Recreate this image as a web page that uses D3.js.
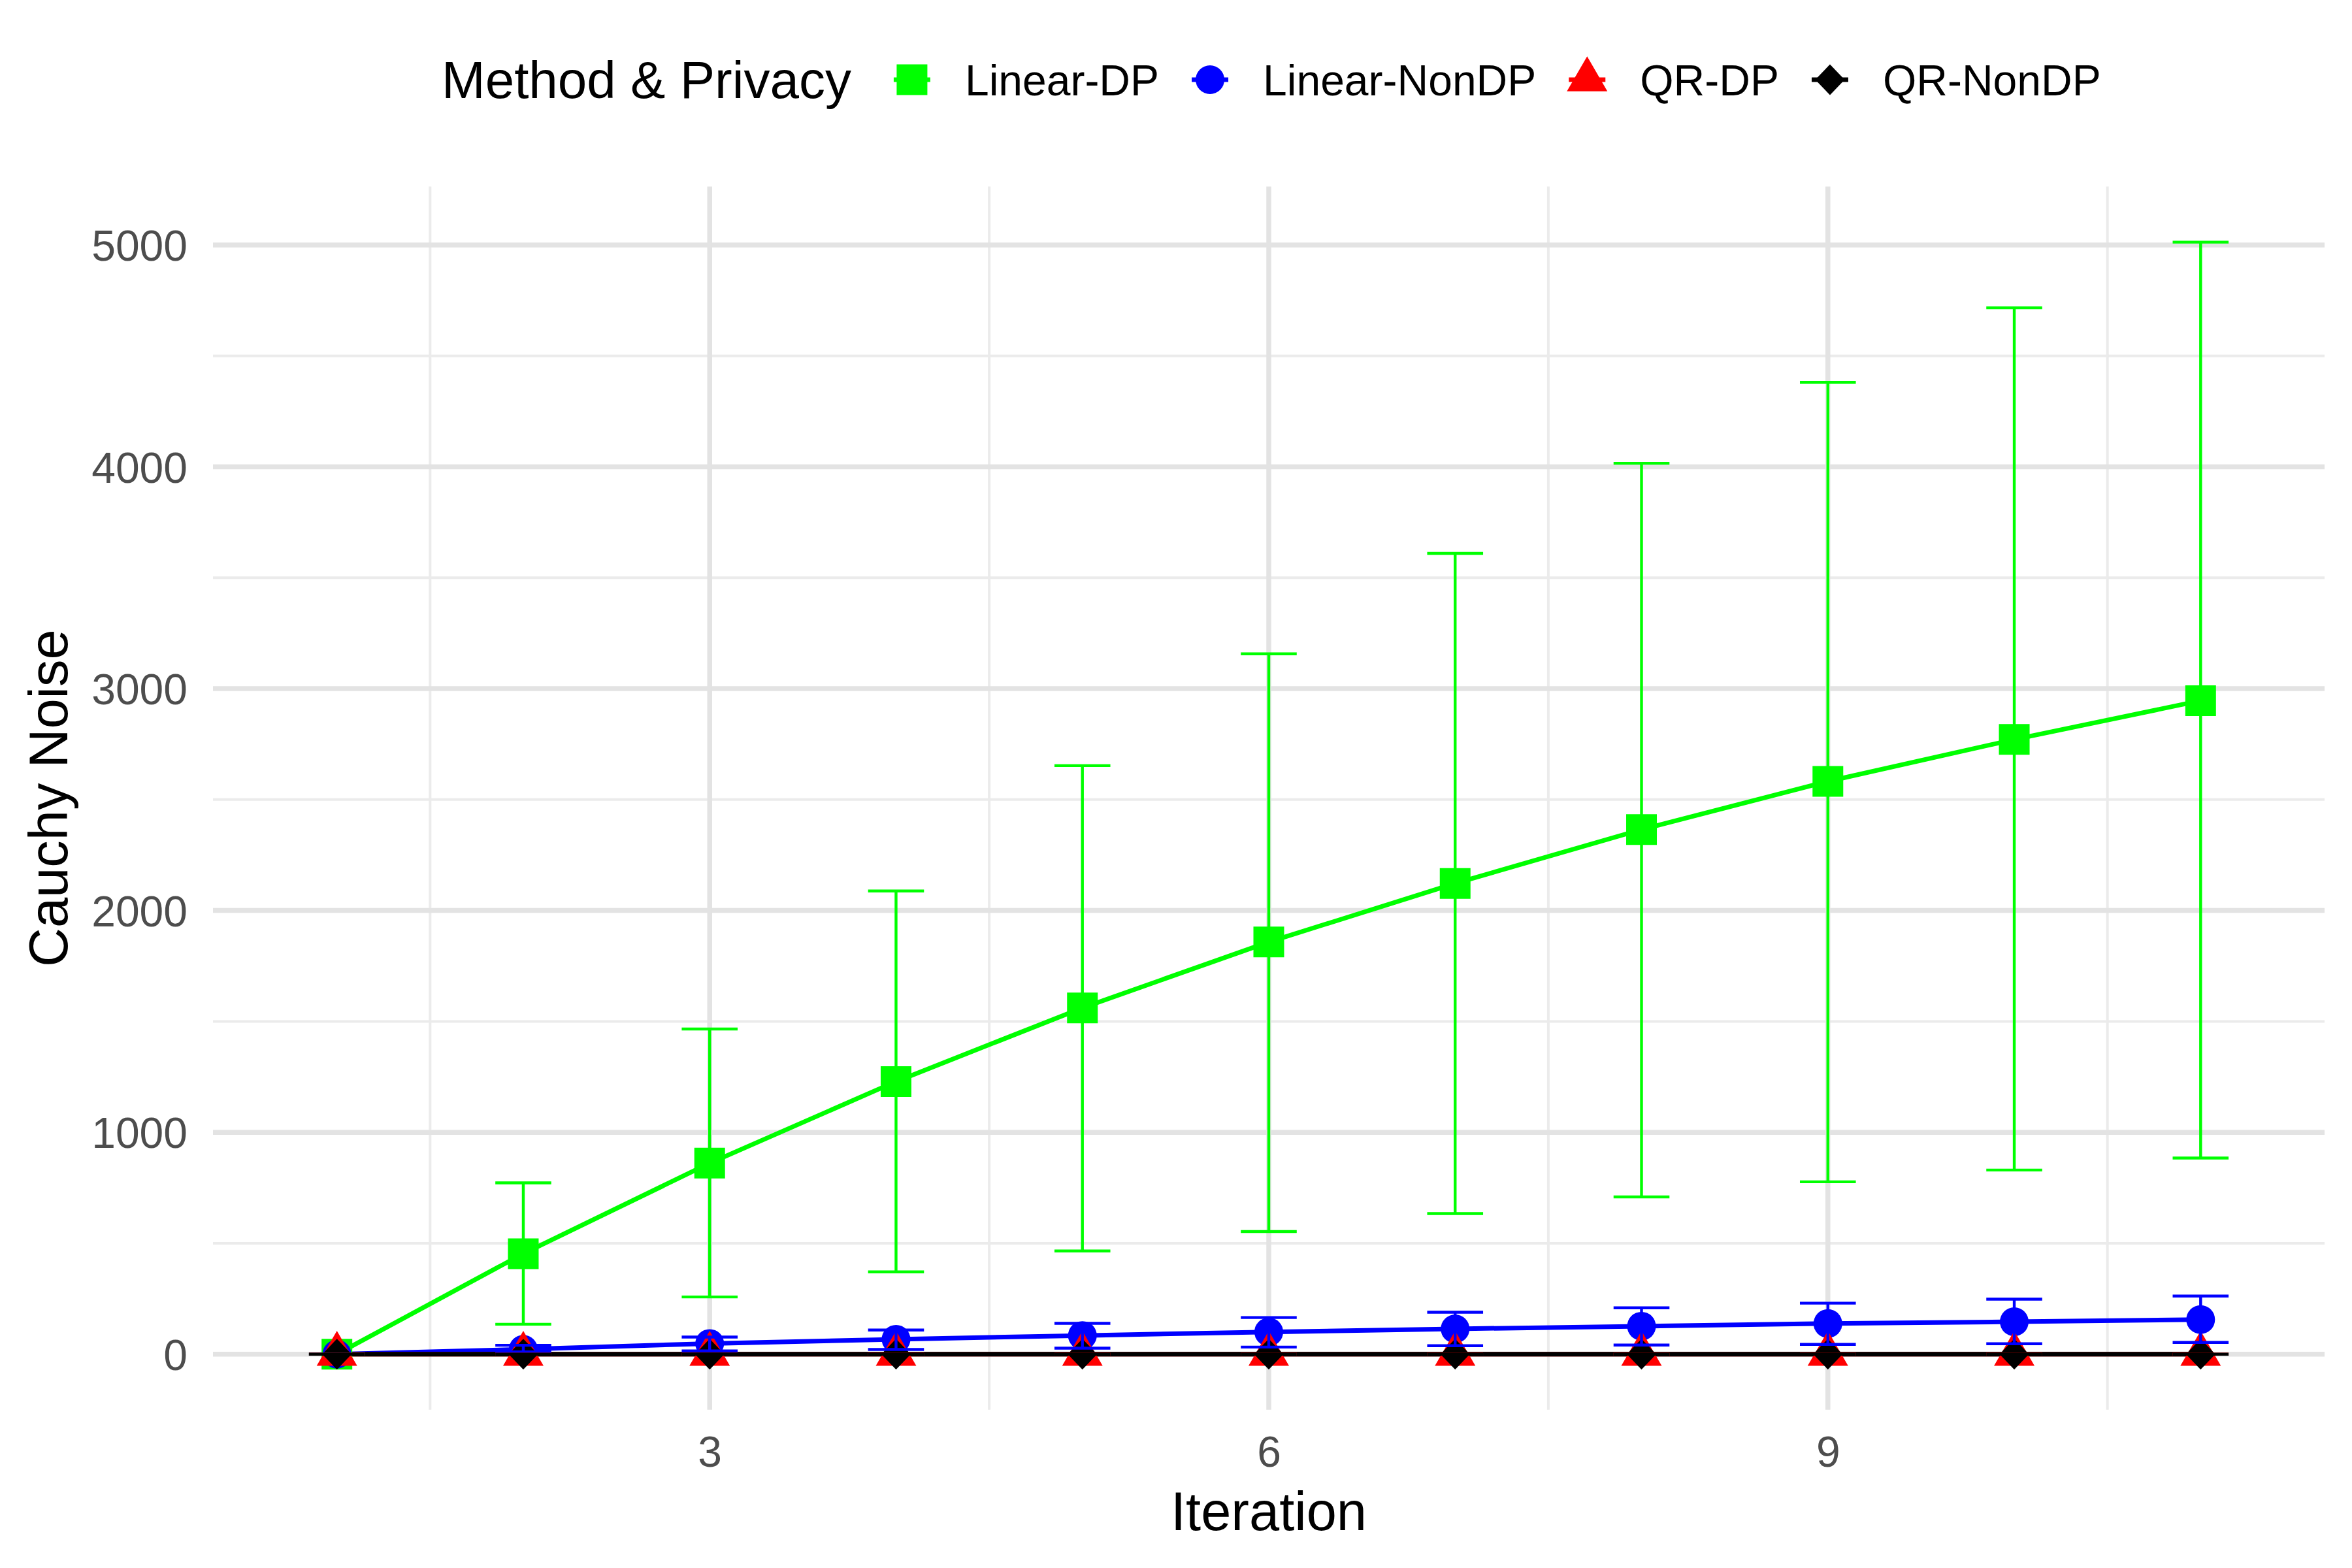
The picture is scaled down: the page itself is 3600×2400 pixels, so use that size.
<!DOCTYPE html>
<html>
<head>
<meta charset="utf-8">
<script src="https://cdn.jsdelivr.net/npm/d3@7"></script>
<style>
  html, body { margin: 0; padding: 0; background: #ffffff; }
  svg { display: block; }
  text { font-family: "Liberation Sans", Arial, sans-serif; }
</style>
</head>
<body>
<script>
// ---------------- data ----------------
const iterations = [1, 2, 3, 4, 5, 6, 7, 8, 9, 10, 11];

const linearDPMean  = [0, 453, 861, 1229, 1561, 1858, 2122, 2365, 2582, 2771, 2946];
const linearDPLower = [0, 135, 258, 371, 465, 553, 634, 709, 777, 830, 884];
const linearDPUpper = [0, 772, 1466, 2088, 2653, 3157, 3610, 4016, 4381, 4717, 5013];

const linearNonDPMean  = [0, 22, 48, 67, 84, 100, 114, 126, 138, 146, 156];
const linearNonDPLower = [0, 10, 15, 21, 27, 32, 38, 41, 44, 47, 53];
const linearNonDPUpper = [0, 40, 77, 109, 139, 165, 189, 209, 230, 248, 262];

const qrDPMean  = [0, 0, 0, 0, 0, 0, 0, 0, 0, 0, 0];
const qrDPLower = [0, 0, 0, 0, 0, 0, 0, 0, 0, 0, 0];
const qrDPUpper = [0, 0, 0, 0, 0, 0, 0, 0, 0, 0, 0];

const qrNonDPMean  = [0, 0, 0, 0, 0, 0, 0, 0, 0, 0, 0];
const qrNonDPLower = [0, 0, 0, 0, 0, 0, 0, 0, 0, 0, 0];
const qrNonDPUpper = [0, 0, 0, 0, 0, 0, 0, 0, 0, 0, 0];

const seriesNames  = ["Linear-DP", "Linear-NonDP", "QR-DP", "QR-NonDP"];
const seriesColors = ["#00ff00", "#0000ff", "#ff0000", "#000000"];
const seriesShapes = ["square", "circle", "triangle", "diamond"];

const xTicks = [3, 6, 9];
const xMinorTicks = [1.5, 4.5, 7.5, 10.5];
const yTicks = [0, 1000, 2000, 3000, 4000, 5000];
const yMinorTicks = [500, 1500, 2500, 3500, 4500];

const xTitle = "Iteration";
const yTitle = "Cauchy Noise";
const legendTitle = "Method & Privacy";

// ---------------- build ----------------
const means  = [linearDPMean, linearNonDPMean, qrDPMean, qrNonDPMean];
const lowers = [linearDPLower, linearNonDPLower, qrDPLower, qrNonDPLower];
const uppers = [linearDPUpper, linearNonDPUpper, qrDPUpper, qrNonDPUpper];

const series = seriesNames.map((name, i) => ({
  name, color: seriesColors[i], shape: seriesShapes[i],
  values: iterations.map((it, j) => ({ x: it, y: means[i][j], lo: lowers[i][j], hi: uppers[i][j] }))
}));

const W = 3600, H = 2400;
const panel = { left: 326, right: 3558, top: 285.5, bottom: 2157.8 };
const errHalf = 0.15; // errorbar width 0.3

// x domain: data range incl. errorbar widths, expanded 5%
const xMin = d3.min(iterations) - errHalf, xMax = d3.max(iterations) + errHalf;
const xPad = (xMax - xMin) * 0.05;
const x = d3.scaleLinear().domain([xMin - xPad, xMax + xPad]).range([panel.left, panel.right]);

const allY = [].concat(...means, ...lowers, ...uppers);
const yMin = d3.min(allY), yMax = d3.max(allY);
const yPad = (yMax - yMin) * 0.05;
const y = d3.scaleLinear().domain([yMin - yPad, yMax + yPad]).range([panel.bottom, panel.top]);

const svg = d3.select("body").append("svg").attr("width", W).attr("height", H);
svg.append("rect").attr("width", W).attr("height", H).attr("fill", "#ffffff");

// grid
const grid = svg.append("g");
grid.selectAll(".ymin").data(yMinorTicks).enter().append("line")
  .attr("x1", panel.left).attr("x2", panel.right)
  .attr("y1", d => y(d)).attr("y2", d => y(d))
  .attr("stroke", "#ebebeb").attr("stroke-width", 4);
grid.selectAll(".xmin").data(xMinorTicks).enter().append("line")
  .attr("y1", panel.top).attr("y2", panel.bottom)
  .attr("x1", d => x(d)).attr("x2", d => x(d))
  .attr("stroke", "#ebebeb").attr("stroke-width", 4);
grid.selectAll(".ymaj").data(yTicks).enter().append("line")
  .attr("x1", panel.left).attr("x2", panel.right)
  .attr("y1", d => y(d)).attr("y2", d => y(d))
  .attr("stroke", "#e3e3e3").attr("stroke-width", 7.5);
grid.selectAll(".xmaj").data(xTicks).enter().append("line")
  .attr("y1", panel.top).attr("y2", panel.bottom)
  .attr("x1", d => x(d)).attr("x2", d => x(d))
  .attr("stroke", "#e3e3e3").attr("stroke-width", 7.5);

// axes
const yAxis = svg.append("g").attr("transform", `translate(${panel.left},0)`)
  .call(d3.axisLeft(y).tickValues(yTicks).tickSize(0).tickPadding(39).tickFormat(d3.format("d")));
yAxis.select(".domain").remove();
yAxis.selectAll("text").attr("font-size", 66).attr("fill", "#4d4d4d").attr("dy", "0.358em")
  .attr("font-family", '"Liberation Sans", Arial, sans-serif');

const xAxis = svg.append("g").attr("transform", `translate(0,${panel.bottom})`)
  .call(d3.axisBottom(x).tickValues(xTicks).tickSize(0).tickPadding(40).tickFormat(d3.format("d")));
xAxis.select(".domain").remove();
xAxis.selectAll("text").attr("font-size", 66).attr("fill", "#4d4d4d")
  .attr("font-family", '"Liberation Sans", Arial, sans-serif');

// axis titles
svg.append("text").attr("x", (panel.left + panel.right) / 2).attr("y", 2342)
  .attr("text-anchor", "middle").attr("font-size", 83).attr("fill", "#000").text(xTitle);
svg.append("text").attr("transform", `translate(103,${(panel.top + panel.bottom) / 2}) rotate(-90)`)
  .attr("text-anchor", "middle").attr("font-size", 83).attr("fill", "#000").text(yTitle);

// symbol paths
function shapePath(shape) {
  switch (shape) {
    case "square": { const s = 23.5; return `M${-s},${-s}H${s}V${s}H${-s}Z`; }
    case "circle": { const r = 22; return `M${r},0A${r},${r},0,1,1,${-r},0A${r},${r},0,1,1,${r},0Z`; }
    case "triangle": { const w = 31, h = 53.5; return `M0,${-2 * h / 3}L${w},${h / 3}L${-w},${h / 3}Z`; }
    case "diamond": { const a = 22.5, b = 23.5; return `M0,${-b}L${a},0L0,${b}L${-a},0Z`; }
  }
}

// lines
const lineGen = d3.line().x(d => x(d.x)).y(d => y(d.y));
const linesG = svg.append("g");
series.forEach(s => {
  linesG.append("path").datum(s.values).attr("d", lineGen)
    .attr("fill", "none").attr("stroke", s.color).attr("stroke-width", 7)
    .attr("stroke-linejoin", "round");
});

// points
const ptsG = svg.append("g");
series.forEach(s => {
  ptsG.selectAll(null).data(s.values).enter().append("path")
    .attr("d", shapePath(s.shape))
    .attr("transform", d => `translate(${x(d.x)},${y(d.y)})`)
    .attr("fill", s.color);
});

// error bars
const errG = svg.append("g");
series.forEach(s => {
  const g = errG.append("g").attr("stroke", s.color).attr("stroke-width", 4.4).attr("fill", "none");
  g.selectAll(null).data(s.values).enter().append("path")
    .attr("d", d => {
      const xl = x(d.x - errHalf), xr = x(d.x + errHalf), xc = x(d.x);
      const yh = y(d.hi), yl = y(d.lo);
      return `M${xl},${yh}H${xr}M${xc},${yh}V${yl}M${xl},${yl}H${xr}`;
    });
});

// legend
const legend = svg.append("g");
const legY = 122;
const titleText = legend.append("text").attr("x", 676).attr("y", 150)
  .attr("font-size", 80).attr("fill", "#000").text(legendTitle);
let cursor = 676 + titleText.node().getComputedTextLength() + 93;
series.forEach((s, i) => {
  const kx = cursor;
  legend.append("line").attr("x1", kx - 28).attr("x2", kx + 28).attr("y1", legY).attr("y2", legY)
    .attr("stroke", s.color).attr("stroke-width", 7);
  legend.append("path").attr("d", shapePath(s.shape))
    .attr("transform", `translate(${kx},${legY})`).attr("fill", s.color);
  const t = legend.append("text").attr("x", kx + 81).attr("y", 145.5)
    .attr("font-size", 66).attr("fill", "#000").text(s.name);
  cursor = kx + 81 + t.node().getComputedTextLength() + 78;
});
</script>
</body>
</html>
